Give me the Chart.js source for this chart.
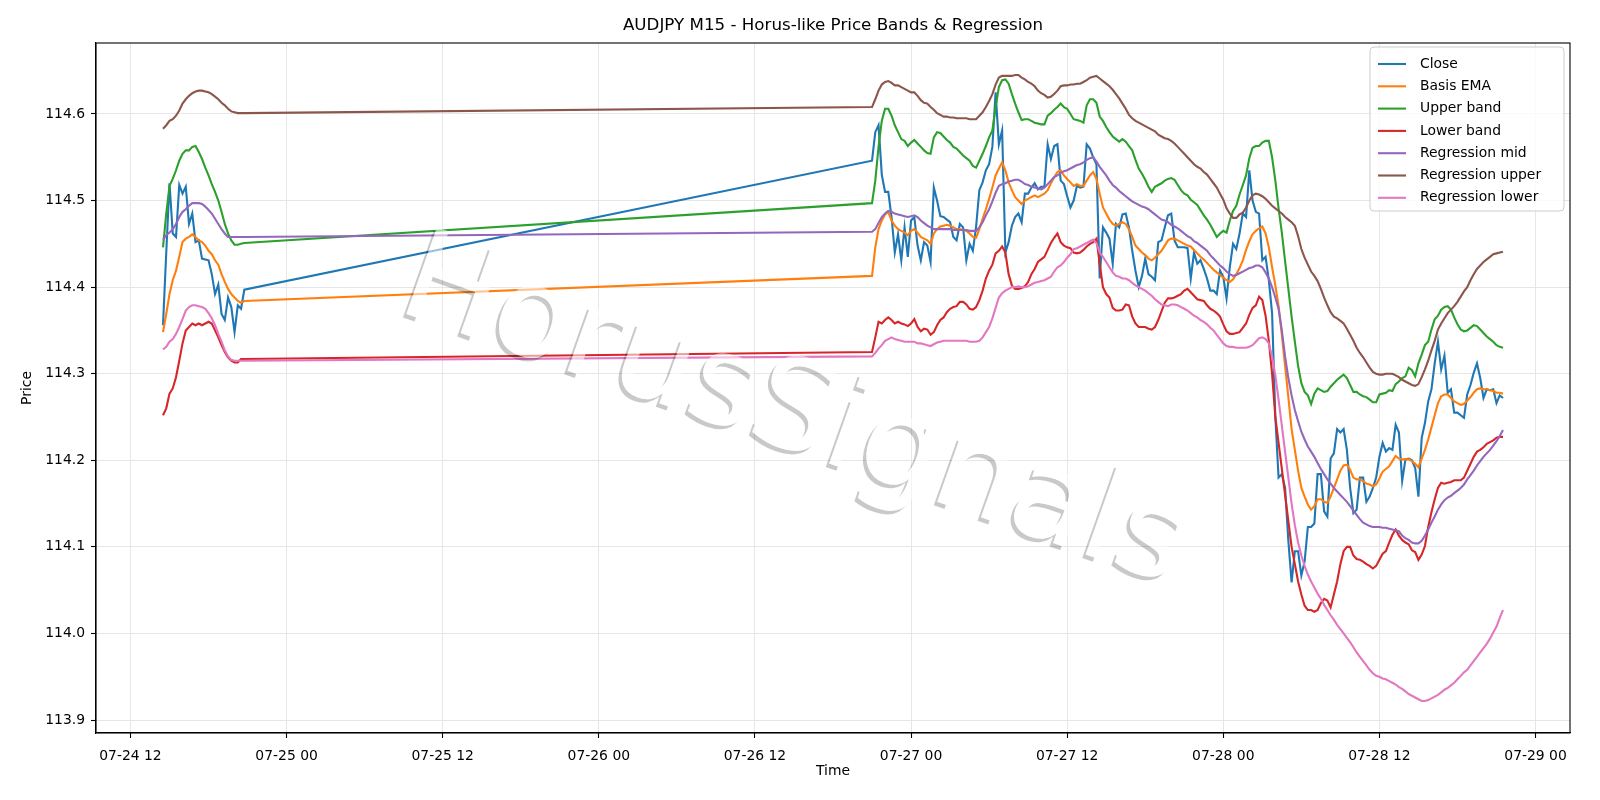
<!DOCTYPE html>
<html>
<head>
<meta charset="utf-8">
<script src="https://cdn.jsdelivr.net/npm/chart.js@4.4.1/dist/chart.umd.min.js"></script>
<style>
  html, body { margin: 0; padding: 0; background: #fff; }
  #wrap { width: 1600px; height: 800px; }
</style>
</head>
<body>
<div id="wrap"><canvas id="chart" width="1600" height="800"></canvas></div>
<script>
// Sessions of M15 bars, hours counted from 07-24 00:00
const sessionStart = [14.5, 69];
const sessionBars = [26, 195];
const barHours = 0.25;

const tickHours = [12, 24, 36, 48, 60, 72, 84, 96, 108, 120];
const tickLabels = ['07-24 12', '07-25 00', '07-25 12', '07-26 00', '07-26 12',
                    '07-27 00', '07-27 12', '07-28 00', '07-28 12', '07-29 00'];
const priceTicks = [113.9, 114.0, 114.1, 114.2, 114.3, 114.4, 114.5, 114.6];

const seriesNames = ['Close', 'Basis EMA', 'Upper band', 'Lower band',
                     'Regression mid', 'Regression upper', 'Regression lower'];
const seriesColors = ['#1f77b4', '#ff7f0e', '#2ca02c', '#d62728', '#9467bd', '#8c564b', '#e377c2'];

const close = [
  114.356, 114.44, 114.52, 114.462, 114.458, 114.518, 114.508, 114.516, 114.473, 114.485,
  114.452, 114.454, 114.433, 114.432, 114.431, 114.415, 114.392, 114.403, 114.369, 114.362,
  114.388, 114.377, 114.348, 114.379, 114.375, 114.397,
  114.546, 114.579, 114.587, 114.53, 114.51, 114.51, 114.481, 114.44, 114.461, 114.431,
  114.469, 114.435, 114.477, 114.481, 114.448, 114.431, 114.452, 114.448, 114.429, 114.515,
  114.5, 114.482, 114.481, 114.478, 114.475, 114.458, 114.454, 114.473, 114.469, 114.431,
  114.45, 114.442, 114.47, 114.512, 114.521, 114.535, 114.542, 114.562, 114.625, 114.565,
  114.581, 114.44, 114.452, 114.471, 114.481, 114.485, 114.475, 114.508, 114.508, 114.515,
  114.52, 114.513, 114.516, 114.516, 114.565, 114.548, 114.563, 114.565, 114.523, 114.519,
  114.505, 114.492, 114.5, 114.517, 114.515, 114.516, 114.565, 114.56, 114.55, 114.542,
  114.41, 114.469, 114.463, 114.456, 114.427, 114.473, 114.469, 114.484, 114.485, 114.469,
  114.442, 114.419, 114.4, 114.413, 114.433, 114.415, 114.412, 114.408, 114.452, 114.454,
  114.469, 114.483, 114.485, 114.454, 114.446, 114.446, 114.446, 114.445, 114.41, 114.44,
  114.427, 114.431, 114.421, 114.41, 114.396, 114.396, 114.392, 114.419, 114.412, 114.387,
  114.423, 114.45, 114.444, 114.462, 114.485, 114.481, 114.535, 114.5, 114.487, 114.485,
  114.431, 114.435, 114.408, 114.37, 114.25, 114.18, 114.184, 114.168, 114.107, 114.059,
  114.095, 114.095, 114.067, 114.083, 114.123, 114.123, 114.127, 114.184, 114.184, 114.141,
  114.135, 114.202, 114.208, 114.236, 114.232, 114.236, 114.212, 114.168, 114.139, 114.143,
  114.18, 114.18, 114.152, 114.158, 114.168, 114.18, 114.204, 114.22, 114.21, 114.214,
  114.212, 114.241, 114.232, 114.176, 114.201, 114.202, 114.2, 114.191, 114.158, 114.226,
  114.243, 114.268, 114.282, 114.312, 114.337, 114.305, 114.321, 114.278, 114.282, 114.255,
  114.255, 114.252, 114.249, 114.276, 114.287, 114.301, 114.312, 114.295, 114.272, 114.282,
  114.281, 114.282, 114.266, 114.275, 114.272
];

const basisEma = [
  114.348, 114.369, 114.392, 114.408, 114.419, 114.435, 114.452, 114.456, 114.458, 114.461,
  114.458, 114.454, 114.452, 114.448, 114.442, 114.438, 114.431, 114.426, 114.415, 114.406,
  114.398, 114.392, 114.388, 114.384, 114.382, 114.384,
  114.413, 114.446, 114.467, 114.477, 114.484, 114.487, 114.477, 114.471, 114.467, 114.465,
  114.463, 114.46, 114.465, 114.467, 114.463, 114.458, 114.456, 114.454, 114.45, 114.462,
  114.467, 114.47, 114.471, 114.472, 114.471, 114.469, 114.467, 114.467, 114.466, 114.465,
  114.462, 114.458, 114.457, 114.467, 114.479, 114.49, 114.502, 114.515, 114.529, 114.537,
  114.544, 114.535, 114.521, 114.512, 114.504, 114.5, 114.496, 114.5, 114.502, 114.504,
  114.506, 114.504, 114.506, 114.508, 114.512, 114.52, 114.527, 114.533, 114.535, 114.529,
  114.525, 114.521, 114.517, 114.519, 114.517, 114.517, 114.523, 114.529, 114.533, 114.525,
  114.508, 114.492, 114.485, 114.478, 114.473, 114.471, 114.473, 114.475, 114.473, 114.467,
  114.458, 114.448, 114.444, 114.44, 114.437, 114.433, 114.431, 114.434, 114.438, 114.442,
  114.448, 114.454, 114.456, 114.456, 114.454, 114.452, 114.45, 114.448, 114.447, 114.443,
  114.439, 114.435, 114.432, 114.428, 114.424, 114.42, 114.417, 114.414, 114.411, 114.408,
  114.406, 114.409, 114.415, 114.422, 114.431, 114.443, 114.453, 114.461, 114.465, 114.468,
  114.47, 114.462, 114.446, 114.423, 114.402, 114.378, 114.345, 114.309, 114.273, 114.236,
  114.212, 114.188, 114.168, 114.158, 114.149, 114.143, 114.147, 114.155, 114.155, 114.152,
  114.151, 114.158, 114.168, 114.178, 114.188, 114.194, 114.195, 114.189, 114.18, 114.178,
  114.178, 114.176, 114.173, 114.172, 114.17, 114.172, 114.179, 114.187, 114.19, 114.193,
  114.199, 114.205, 114.202, 114.201, 114.201, 114.201, 114.199, 114.196, 114.192, 114.202,
  114.212, 114.224, 114.238, 114.252, 114.266, 114.274, 114.276, 114.276, 114.272, 114.268,
  114.266, 114.264, 114.265, 114.269, 114.273, 114.278, 114.282, 114.283, 114.282, 114.282,
  114.281, 114.28, 114.278, 114.278, 114.277
];

const upperBand = [
  114.446, 114.485, 114.517, 114.525, 114.535, 114.546, 114.554, 114.558, 114.558, 114.562,
  114.563, 114.556, 114.548, 114.538, 114.529, 114.519, 114.51, 114.5, 114.487, 114.473,
  114.462, 114.454, 114.449, 114.449, 114.45, 114.451,
  114.497, 114.523, 114.562, 114.592, 114.606, 114.606, 114.598, 114.587, 114.579, 114.571,
  114.569, 114.563, 114.567, 114.57, 114.566, 114.562, 114.558, 114.555, 114.554, 114.573,
  114.579, 114.578, 114.574, 114.57, 114.567, 114.562, 114.56, 114.556, 114.552, 114.549,
  114.546, 114.54, 114.538, 114.546, 114.554, 114.563, 114.573, 114.581, 114.608, 114.631,
  114.639, 114.64, 114.635, 114.623, 114.612, 114.602, 114.593, 114.594, 114.594, 114.592,
  114.59, 114.589, 114.588, 114.588, 114.598, 114.601, 114.605, 114.608, 114.612, 114.608,
  114.606, 114.6, 114.594, 114.593, 114.592, 114.59, 114.61, 114.617, 114.617, 114.613,
  114.597, 114.592, 114.585, 114.579, 114.574, 114.571, 114.568, 114.571, 114.568, 114.563,
  114.558, 114.547, 114.537, 114.531, 114.524, 114.516, 114.51, 114.516, 114.518, 114.52,
  114.523, 114.525, 114.526, 114.524, 114.518, 114.512, 114.508, 114.506, 114.501, 114.498,
  114.495, 114.489, 114.483, 114.478, 114.472, 114.465, 114.458, 114.462, 114.465, 114.463,
  114.477, 114.488, 114.494, 114.507, 114.518, 114.529, 114.549, 114.561, 114.563, 114.563,
  114.567, 114.569, 114.569, 114.55, 114.523, 114.491, 114.463, 114.43, 114.398, 114.366,
  114.337, 114.309, 114.289, 114.279, 114.275, 114.265, 114.277, 114.283, 114.281, 114.279,
  114.28, 114.285, 114.289, 114.293, 114.296, 114.299, 114.295, 114.287, 114.279, 114.279,
  114.276, 114.274, 114.273, 114.27, 114.267, 114.267, 114.276, 114.277, 114.278, 114.281,
  114.28, 114.288, 114.291, 114.295, 114.297, 114.307, 114.304, 114.297, 114.312, 114.322,
  114.333, 114.337, 114.351, 114.363, 114.367, 114.374, 114.377, 114.378, 114.374, 114.365,
  114.357, 114.351, 114.349, 114.35, 114.353, 114.356, 114.355, 114.351, 114.347, 114.343,
  114.34, 114.337, 114.333, 114.331, 114.33
];

const lowerBand = [
  114.252, 114.26, 114.277, 114.283, 114.296, 114.315, 114.335, 114.35, 114.354, 114.358,
  114.356, 114.358, 114.356, 114.358, 114.36, 114.358, 114.35, 114.342, 114.333, 114.325,
  114.319, 114.315, 114.313, 114.313, 114.317, 114.317,
  114.325, 114.342, 114.36, 114.358, 114.362, 114.365, 114.362, 114.358, 114.36, 114.358,
  114.357, 114.355, 114.358, 114.363, 114.354, 114.349, 114.352, 114.351, 114.345, 114.348,
  114.356, 114.362, 114.365, 114.371, 114.375, 114.377, 114.378, 114.383, 114.383, 114.38,
  114.375, 114.374, 114.377, 114.385, 114.396, 114.41, 114.419, 114.426, 114.439, 114.442,
  114.447, 114.44, 114.415, 114.402, 114.398, 114.398, 114.399, 114.401, 114.406, 114.415,
  114.421, 114.429, 114.432, 114.435, 114.443, 114.451, 114.457, 114.462, 114.452, 114.448,
  114.446, 114.445, 114.44, 114.439, 114.44, 114.443, 114.447, 114.45, 114.452, 114.456,
  114.427, 114.4, 114.392, 114.388, 114.376, 114.373, 114.373, 114.374, 114.38, 114.379,
  114.366, 114.358, 114.354, 114.354, 114.354, 114.352, 114.351, 114.354, 114.362, 114.372,
  114.382, 114.387, 114.387, 114.388, 114.39, 114.392, 114.396, 114.398, 114.394, 114.39,
  114.386, 114.385, 114.384, 114.379, 114.375, 114.373, 114.37, 114.366, 114.357, 114.349,
  114.346, 114.346, 114.347, 114.348, 114.353, 114.358, 114.368, 114.376, 114.379, 114.389,
  114.385, 114.367, 114.338, 114.3, 114.25, 114.22, 114.19, 114.16, 114.13, 114.1,
  114.08, 114.06, 114.045, 114.032, 114.027, 114.027, 114.025, 114.027, 114.035, 114.04,
  114.038, 114.03, 114.045, 114.06, 114.08, 114.095, 114.1, 114.1, 114.09, 114.086,
  114.085, 114.083, 114.08, 114.078, 114.075, 114.078, 114.085, 114.092, 114.095, 114.105,
  114.114, 114.12, 114.113, 114.108, 114.105, 114.103, 114.096, 114.094, 114.085, 114.091,
  114.101, 114.123, 114.14, 114.155, 114.168, 114.174, 114.173, 114.174, 114.175, 114.177,
  114.177, 114.177, 114.18, 114.188, 114.196, 114.204, 114.21, 114.212, 114.215, 114.219,
  114.221, 114.223, 114.226, 114.227, 114.227
];

const regMid = [
  114.455, 114.46, 114.463, 114.467, 114.473, 114.481, 114.487, 114.49, 114.494, 114.497,
  114.497, 114.497, 114.496, 114.493, 114.489, 114.485, 114.479, 114.473, 114.467, 114.462,
  114.458, 114.458, 114.458, 114.458, 114.458, 114.458,
  114.464, 114.467, 114.474, 114.481, 114.485, 114.488, 114.487, 114.485, 114.484, 114.483,
  114.482, 114.481, 114.482, 114.483, 114.481, 114.477, 114.474, 114.471, 114.469, 114.467,
  114.467, 114.467, 114.467, 114.467, 114.467, 114.466, 114.466, 114.466, 114.466, 114.466,
  114.465, 114.465, 114.465, 114.469, 114.475, 114.483, 114.49, 114.499, 114.509, 114.517,
  114.519, 114.52, 114.522, 114.523, 114.524, 114.524, 114.522, 114.519, 114.518, 114.516,
  114.515, 114.514, 114.513, 114.515, 114.519, 114.523, 114.527, 114.529, 114.532, 114.534,
  114.535, 114.537, 114.539, 114.541, 114.542, 114.544, 114.547, 114.549, 114.55, 114.545,
  114.539, 114.534, 114.529, 114.523, 114.518, 114.515, 114.511, 114.508, 114.505, 114.502,
  114.499, 114.497, 114.495, 114.493, 114.492, 114.49, 114.487, 114.484, 114.481, 114.478,
  114.477, 114.475, 114.472, 114.47, 114.468, 114.465, 114.462, 114.459, 114.457, 114.453,
  114.451, 114.448, 114.445, 114.442, 114.437, 114.433, 114.429, 114.425, 114.422, 114.418,
  114.415, 114.413, 114.414, 114.416, 114.418, 114.42, 114.422, 114.423, 114.425, 114.425,
  114.423, 114.417, 114.41, 114.4, 114.388, 114.375, 114.35, 114.32, 114.295, 114.275,
  114.258, 114.245, 114.233, 114.224, 114.216, 114.21, 114.204, 114.197, 114.19, 114.184,
  114.178, 114.173, 114.168, 114.164, 114.16, 114.156, 114.152, 114.147, 114.142, 114.137,
  114.132, 114.128, 114.126, 114.124, 114.123, 114.123, 114.123, 114.122, 114.122, 114.121,
  114.12, 114.119, 114.118, 114.113, 114.11, 114.108, 114.105, 114.104, 114.104, 114.107,
  114.113, 114.12, 114.128, 114.135, 114.143, 114.149, 114.154, 114.157, 114.159, 114.162,
  114.165, 114.168, 114.172, 114.178, 114.183, 114.188, 114.194, 114.199, 114.204, 114.208,
  114.212, 114.217, 114.222, 114.228, 114.235
];

const regUpper = [
  114.583, 114.587, 114.592, 114.594, 114.598, 114.604, 114.612, 114.617, 114.621, 114.624,
  114.626, 114.627, 114.627, 114.626, 114.625, 114.623, 114.62, 114.617, 114.613, 114.61,
  114.606, 114.603, 114.602, 114.601, 114.601, 114.601,
  114.608, 114.617, 114.627, 114.634, 114.637, 114.638, 114.636, 114.633, 114.633, 114.631,
  114.629, 114.627, 114.625, 114.625, 114.621, 114.616, 114.613, 114.612, 114.608, 114.605,
  114.601, 114.599, 114.597, 114.597, 114.596, 114.596, 114.595, 114.595, 114.595, 114.595,
  114.594, 114.594, 114.594, 114.598, 114.602, 114.608, 114.615, 114.623, 114.634, 114.642,
  114.644, 114.644, 114.644, 114.644, 114.645, 114.645, 114.642, 114.64, 114.637, 114.635,
  114.632, 114.627, 114.624, 114.622, 114.619, 114.62, 114.623, 114.627, 114.632, 114.633,
  114.633, 114.634, 114.634, 114.635, 114.635, 114.637, 114.639, 114.642, 114.643, 114.644,
  114.641, 114.638, 114.635, 114.632, 114.628, 114.623, 114.618, 114.612, 114.606, 114.599,
  114.595, 114.592, 114.59, 114.588, 114.586, 114.584, 114.582, 114.58, 114.576, 114.574,
  114.572, 114.571, 114.569, 114.566, 114.562, 114.558, 114.554, 114.55, 114.546, 114.542,
  114.539, 114.537, 114.533, 114.53, 114.525, 114.52, 114.515, 114.508, 114.501, 114.491,
  114.485, 114.48, 114.48, 114.484, 114.486, 114.492, 114.5, 114.506, 114.508, 114.507,
  114.505, 114.502, 114.498, 114.494, 114.491, 114.488, 114.485, 114.481, 114.478, 114.475,
  114.471, 114.459, 114.444, 114.434, 114.426, 114.418, 114.413, 114.407, 114.398, 114.388,
  114.379, 114.371, 114.366, 114.364, 114.361, 114.358, 114.352, 114.345, 114.338, 114.33,
  114.324, 114.319, 114.313, 114.307, 114.302, 114.3, 114.299, 114.299, 114.3, 114.3,
  114.3, 114.298, 114.296, 114.293, 114.291, 114.289, 114.287, 114.286, 114.288, 114.296,
  114.305, 114.315, 114.327, 114.338, 114.351, 114.358, 114.364, 114.37, 114.374, 114.378,
  114.383, 114.389, 114.395, 114.4, 114.408, 114.415, 114.421, 114.425, 114.429, 114.432,
  114.435, 114.438, 114.439, 114.44, 114.441
];

const regLower = [
  114.328, 114.331, 114.337, 114.34, 114.346, 114.354, 114.363, 114.373, 114.377, 114.379,
  114.379, 114.378, 114.377, 114.375, 114.37, 114.364, 114.356, 114.346, 114.337, 114.327,
  114.32, 114.316, 114.315, 114.315, 114.315, 114.315,
  114.32, 114.324, 114.329, 114.333, 114.338, 114.34, 114.342, 114.34, 114.339, 114.338,
  114.337, 114.337, 114.337, 114.337, 114.335, 114.335, 114.334, 114.333, 114.332, 114.334,
  114.336, 114.337, 114.338, 114.338, 114.338, 114.338, 114.338, 114.338, 114.338, 114.338,
  114.337, 114.337, 114.337, 114.338, 114.342, 114.348, 114.354, 114.364, 114.376, 114.388,
  114.393, 114.396, 114.398, 114.4, 114.4, 114.401, 114.4, 114.4, 114.401, 114.403,
  114.405, 114.406, 114.407, 114.408, 114.41, 114.412, 114.418, 114.423, 114.425, 114.429,
  114.434, 114.438, 114.444, 114.445, 114.447, 114.449, 114.451, 114.453, 114.455, 114.451,
  114.44, 114.435, 114.429, 114.423, 114.417, 114.413, 114.412, 114.41, 114.41, 114.408,
  114.405, 114.402, 114.4, 114.398, 114.396, 114.393, 114.39, 114.386, 114.383, 114.38,
  114.379, 114.378, 114.38, 114.38, 114.379, 114.377, 114.375, 114.373, 114.37, 114.367,
  114.365, 114.362, 114.36, 114.357, 114.353, 114.35, 114.345, 114.34, 114.335, 114.332,
  114.331, 114.331, 114.33, 114.33, 114.33, 114.33, 114.331, 114.333, 114.337, 114.341,
  114.342, 114.34, 114.335, 114.32, 114.298, 114.27, 114.24, 114.21, 114.18, 114.15,
  114.125, 114.105, 114.09, 114.078, 114.068, 114.06, 114.053, 114.046, 114.04, 114.033,
  114.027, 114.021, 114.016, 114.01, 114.005, 114.0, 113.995, 113.99, 113.984, 113.978,
  113.973, 113.968, 113.963, 113.958, 113.954, 113.951, 113.95, 113.948, 113.947, 113.945,
  113.943, 113.941, 113.938, 113.936, 113.933, 113.93, 113.928, 113.926, 113.924, 113.922,
  113.922, 113.923, 113.925, 113.927, 113.929, 113.932, 113.935, 113.937, 113.94, 113.943,
  113.947, 113.951, 113.955, 113.958, 113.963, 113.968, 113.973, 113.978, 113.983, 113.988,
  113.994, 114.001, 114.008, 114.018, 114.027
];

// bar times in hours
const times = [];
sessionStart.forEach((start, s) => {
  for (let i = 0; i < sessionBars[s]; i++) times.push(start + i * barHours);
});

const seriesValues = [close, basisEma, upperBand, lowerBand, regMid, regUpper, regLower];

const FONT = '"DejaVu Sans", "Liberation Sans", sans-serif';
const tickFont = { family: FONT, size: 13.9 };

const datasets = seriesValues.map((vals, k) => ({
  label: seriesNames[k],
  data: times.map((t, i) => ({ x: t, y: vals[i] })),
  borderColor: seriesColors[k],
  backgroundColor: seriesColors[k],
  borderWidth: 2.1,
  pointRadius: 0,
  tension: 0,
  fill: false,
  order: seriesNames.length - k   // later series drawn on top
}));

// watermark: white translucent letters with a grey drop shadow down-left
function drawWatermark(ctx, area) {
  const off = document.createElement('canvas');
  off.width = 1600;
  off.height = 800;
  const o = off.getContext('2d');
  const text = 'HorusSignals';
  const put = (dx, dy) => {
    o.save();
    o.translate(793 + dx, 416 + dy);
    o.rotate(19.5 * Math.PI / 180);
    o.font = '126px ' + FONT;
    o.textAlign = 'center';
    o.textBaseline = 'middle';
    o.fillText(text, 0, 0);
    o.restore();
  };
  o.fillStyle = 'rgba(0,0,0,0.21)';
  put(-3.5, 3.5);
  o.globalCompositeOperation = 'destination-out';
  o.fillStyle = '#000';
  put(0, 0);
  o.globalCompositeOperation = 'source-over';
  o.fillStyle = 'rgba(255,255,255,0.55)';
  put(0, 0);

  ctx.save();
  ctx.beginPath();
  ctx.rect(area.left, area.top, area.right - area.left, area.bottom - area.top);
  ctx.clip();
  ctx.drawImage(off, 0, 0);
  ctx.restore();
}

// Title, axis labels, frame, legend and watermark
const decorations = {
  id: 'decorations',
  afterDatasetsDraw(chart) {
    drawWatermark(chart.ctx, chart.chartArea);
  },
  afterDraw(chart) {
    const { ctx, chartArea: a } = chart;
    ctx.save();
    // frame
    ctx.strokeStyle = '#000';
    ctx.lineWidth = 1.1;
    ctx.strokeRect(a.left, a.top, a.right - a.left, a.bottom - a.top);

    // texts
    ctx.fillStyle = '#000';
    ctx.textAlign = 'center';
    ctx.textBaseline = 'middle';
    ctx.font = '16.7px ' + FONT;
    ctx.fillText('AUDJPY M15 - Horus-like Price Bands & Regression', (a.left + a.right) / 2, 26);
    ctx.font = '13.9px ' + FONT;
    ctx.fillText('Time', (a.left + a.right) / 2, 771);
    ctx.save();
    ctx.translate(27, (a.top + a.bottom) / 2);
    ctx.rotate(-Math.PI / 2);
    ctx.fillText('Price', 0, 0);
    ctx.restore();

    // legend
    const bx = 1370, by = 47, bw = 194, bh = 164, r = 4;
    ctx.beginPath();
    ctx.moveTo(bx + r, by);
    ctx.arcTo(bx + bw, by, bx + bw, by + bh, r);
    ctx.arcTo(bx + bw, by + bh, bx, by + bh, r);
    ctx.arcTo(bx, by + bh, bx, by, r);
    ctx.arcTo(bx, by, bx + bw, by, r);
    ctx.closePath();
    ctx.fillStyle = 'rgba(255,255,255,0.8)';
    ctx.fill();
    ctx.strokeStyle = '#cccccc';
    ctx.lineWidth = 1;
    ctx.stroke();
    ctx.textAlign = 'left';
    ctx.font = '13.9px ' + FONT;
    seriesNames.forEach((name, k) => {
      const y = 64 + k * 22.3;
      ctx.strokeStyle = seriesColors[k];
      ctx.lineWidth = 2.1;
      ctx.beginPath();
      ctx.moveTo(1378, y);
      ctx.lineTo(1406, y);
      ctx.stroke();
      ctx.fillStyle = '#000';
      ctx.fillText(name, 1420, y);
    });
    ctx.restore();
  }
};

const gridColor = '#e6e6e6';

new Chart(document.getElementById('chart').getContext('2d'), {
  type: 'line',
  data: { datasets },
  options: {
    responsive: false,
    animation: false,
    devicePixelRatio: 1,
    parsing: false,
    layout: { padding: { top: 43, right: 30, left: 0, bottom: 0 } },
    plugins: {
      legend: { display: false },
      title: { display: false },
      tooltip: { enabled: false }
    },
    scales: {
      x: {
        type: 'linear',
        min: 9.35,
        max: 122.65,
        afterBuildTicks: s => { s.ticks = tickHours.map(v => ({ value: v })); },
        afterFit: s => { s.height = 67; },
        ticks: {
          callback: (v, i) => tickLabels[i],
          font: tickFont,
          color: '#000',
          padding: 10,
          maxRotation: 0,
          autoSkip: false
        },
        grid: { color: gridColor, lineWidth: 1, tickColor: '#000', tickLength: 5, tickWidth: 1.1 },
        border: { color: '#000', width: 1.1 }
      },
      y: {
        type: 'linear',
        min: 113.885,
        max: 114.682,
        afterBuildTicks: s => { s.ticks = priceTicks.map(v => ({ value: v })); },
        afterFit: s => { s.width = 96; },
        ticks: {
          callback: v => v.toFixed(1),
          font: tickFont,
          color: '#000',
          padding: 6
        },
        grid: { color: gridColor, lineWidth: 1, tickColor: '#000', tickLength: 5, tickWidth: 1.1 },
        border: { color: '#000', width: 1.1 }
      }
    }
  },
  plugins: [decorations]
});
</script>
</body>
</html>
